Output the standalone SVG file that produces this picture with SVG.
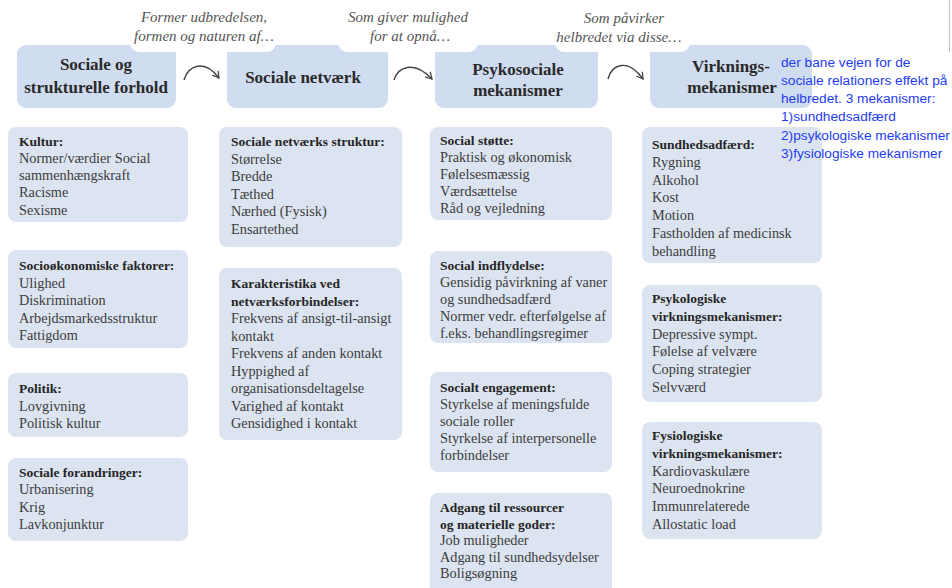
<svg xmlns="http://www.w3.org/2000/svg" width="952" height="588" viewBox="0 0 952 588">
<defs>
<style>
.hbox{fill:#d0dcef}
.dbox{fill:#dce4f1}
.cut{fill:#ffffff}
.ht{font-family:"Liberation Serif",serif;font-weight:bold;font-size:17px;fill:#2a2a2a;text-anchor:middle}
.lbl{font-family:"Liberation Serif",serif;font-style:italic;font-size:15px;fill:#555555;text-anchor:middle}
.hd{font-family:"Liberation Serif",serif;font-weight:bold;font-size:13.5px;fill:#262626}
.it{font-family:"Liberation Serif",serif;font-size:14.3px;fill:#3c3c3c}
.note{font-family:"Liberation Sans",Arial,sans-serif;font-size:13.7px;fill:#1f3cf5}
.arr{fill:none;stroke:#444444;stroke-width:1.4;marker-end:url(#chev)}
</style>
<marker id="chev" viewBox="0 0 10 10" refX="8" refY="5" markerWidth="9" markerHeight="9" markerUnits="userSpaceOnUse" orient="auto">
<path d="M1,1 L8,5 L1,9" fill="none" stroke="#444444" stroke-width="1.4"/>
</marker>
</defs>
<rect width="952" height="588" fill="#ffffff"/>
<line x1="949.5" y1="0" x2="949.5" y2="52" stroke="#c4c4c4" stroke-width="1"/>

<!-- header nodes -->
<g id="h1"><rect class="hbox" x="17" y="45" width="159" height="63" rx="9"/></g>
<g id="h2"><rect class="hbox" x="227" y="45" width="161" height="63" rx="9"/></g>
<g id="h3"><rect class="hbox" x="435" y="45" width="163" height="63" rx="9"/></g>
<g id="h4"><rect class="hbox" x="650" y="45" width="162" height="63" rx="9"/></g>

<!-- label backgrounds (notches) -->
<g id="edge-labels">
<rect class="cut" x="130" y="-12" width="146" height="64" rx="9"/>
<rect class="cut" x="338" y="-12" width="140" height="64" rx="9"/>
<rect class="cut" x="555" y="-12" width="135" height="64" rx="9"/>
<text class="lbl" x="204" y="22">Former udbredelsen,</text>
<text class="lbl" x="204" y="41">formen og naturen af…</text>
<text class="lbl" x="408" y="22">Som giver mulighed</text>
<text class="lbl" x="410" y="41">for at opnå…</text>
<text class="lbl" x="624" y="23">Som påvirker</text>
<text class="lbl" x="619" y="42">helbredet via disse…</text>
</g>

<g id="h1-text"><text class="ht" x="96" y="70">Sociale og</text><text class="ht" x="96" y="93">strukturelle forhold</text></g>
<g id="h2-text"><text class="ht" x="303" y="83">Sociale netværk</text></g>
<g id="h3-text"><text class="ht" x="518" y="75">Psykosociale</text><text class="ht" x="518" y="96">mekanismer</text></g>
<g id="h4-text"><text class="ht" x="731" y="72">Virknings-</text><text class="ht" x="732" y="93">mekanismer</text></g>

<!-- connectors -->
<g id="connectors">
<path class="arr" d="M184,80 C188,66 204,58 219,78"/>
<path class="arr" d="M394,80 C398,67 414,60 432,79"/>
<path class="arr" d="M608,79 C612,64 628,58 643,79"/>
</g>

<!-- column 1 -->
<g id="kultur"><rect class="dbox" x="8" y="127" width="180" height="95" rx="8"/>
<text class="hd" x="19" y="145.5">Kultur:</text>
<text class="it" x="19" y="162.8">Normer/værdier Social</text>
<text class="it" x="19" y="180.1">sammenhængskraft</text>
<text class="it" x="19" y="197.4">Racisme</text>
<text class="it" x="19" y="214.7">Sexisme</text></g>

<g id="socio"><rect class="dbox" x="8" y="250" width="180" height="98" rx="8"/>
<text class="hd" x="19" y="270">Socioøkonomiske faktorer:</text>
<text class="it" x="19" y="287.5">Ulighed</text>
<text class="it" x="19" y="305">Diskrimination</text>
<text class="it" x="19" y="322.5">Arbejdsmarkedsstruktur</text>
<text class="it" x="19" y="340">Fattigdom</text></g>

<g id="politik"><rect class="dbox" x="8" y="373" width="180" height="64" rx="8"/>
<text class="hd" x="19" y="393">Politik:</text>
<text class="it" x="19" y="410.5">Lovgivning</text>
<text class="it" x="19" y="428">Politisk kultur</text></g>

<g id="forandringer"><rect class="dbox" x="8" y="458" width="180" height="83" rx="8"/>
<text class="hd" x="19" y="477">Sociale forandringer:</text>
<text class="it" x="19" y="494.3">Urbanisering</text>
<text class="it" x="19" y="511.6">Krig</text>
<text class="it" x="19" y="528.9">Lavkonjunktur</text></g>

<!-- column 2 -->
<g id="struktur"><rect class="dbox" x="219" y="127" width="183" height="120" rx="8"/>
<text class="hd" x="231" y="146">Sociale netværks struktur:</text>
<text class="it" x="231" y="163.6">Størrelse</text>
<text class="it" x="231" y="181.2">Bredde</text>
<text class="it" x="231" y="198.8">Tæthed</text>
<text class="it" x="231" y="216.4">Nærhed (Fysisk)</text>
<text class="it" x="231" y="234">Ensartethed</text></g>

<g id="karakteristika"><rect class="dbox" x="219" y="268" width="183" height="172" rx="8"/>
<text class="hd" x="231" y="288">Karakteristika ved</text>
<text class="hd" x="231" y="305.5">netværksforbindelser:</text>
<text class="it" x="231" y="323">Frekvens af ansigt-til-ansigt</text>
<text class="it" x="231" y="340.5">kontakt</text>
<text class="it" x="231" y="358">Frekvens af anden kontakt</text>
<text class="it" x="231" y="375.5">Hyppighed af</text>
<text class="it" x="231" y="393">organisationsdeltagelse</text>
<text class="it" x="231" y="410.5">Varighed af kontakt</text>
<text class="it" x="231" y="428">Gensidighed i kontakt</text></g>

<!-- column 3 -->
<g id="stotte"><rect class="dbox" x="430" y="127" width="182" height="93" rx="8"/>
<text class="hd" x="440" y="145">Social støtte:</text>
<text class="it" x="440" y="162">Praktisk og økonomisk</text>
<text class="it" x="440" y="179">Følelsesmæssig</text>
<text class="it" x="440" y="196">Værdsættelse</text>
<text class="it" x="440" y="213">Råd og vejledning</text></g>

<g id="indflydelse"><rect class="dbox" x="430" y="251" width="182" height="92" rx="8"/>
<text class="hd" x="440" y="270">Social indflydelse:</text>
<text class="it" x="440" y="287">Gensidig påvirkning af vaner</text>
<text class="it" x="440" y="304">og sundhedsadfærd</text>
<text class="it" x="440" y="321">Normer vedr. efterfølgelse af</text>
<text class="it" x="440" y="338">f.eks. behandlingsregimer</text></g>

<g id="engagement"><rect class="dbox" x="430" y="372" width="182" height="100" rx="8"/>
<text class="hd" x="440" y="392">Socialt engagement:</text>
<text class="it" x="440" y="409">Styrkelse af meningsfulde</text>
<text class="it" x="440" y="426">sociale roller</text>
<text class="it" x="440" y="443">Styrkelse af interpersonelle</text>
<text class="it" x="440" y="460">forbindelser</text></g>

<g id="adgang"><rect class="dbox" x="430" y="493" width="182" height="120" rx="8"/>
<text class="hd" x="440" y="512">Adgang til ressourcer</text>
<text class="hd" x="440" y="528.5">og materielle goder:</text>
<text class="it" x="440" y="545">Job muligheder</text>
<text class="it" x="440" y="561.5">Adgang til sundhedsydelser</text>
<text class="it" x="440" y="578">Boligsøgning</text></g>

<!-- column 4 -->
<g id="sundhed"><rect class="dbox" x="642" y="127" width="180" height="136" rx="8"/>
<text class="hd" x="652" y="149">Sundhedsadfærd:</text>
<text class="it" x="652" y="166.8">Rygning</text>
<text class="it" x="652" y="184.6">Alkohol</text>
<text class="it" x="652" y="202.4">Kost</text>
<text class="it" x="652" y="220.2">Motion</text>
<text class="it" x="652" y="238">Fastholden af medicinsk</text>
<text class="it" x="652" y="255.8">behandling</text></g>

<g id="psykologiske"><rect class="dbox" x="642" y="285" width="180" height="117" rx="8"/>
<text class="hd" x="652" y="303">Psykologiske</text>
<text class="hd" x="652" y="320.8">virkningsmekanismer:</text>
<text class="it" x="652" y="338.6">Depressive sympt.</text>
<text class="it" x="652" y="356.4">Følelse af velvære</text>
<text class="it" x="652" y="374.2">Coping strategier</text>
<text class="it" x="652" y="392">Selvværd</text></g>

<g id="fysiologiske"><rect class="dbox" x="642" y="422" width="180" height="117" rx="8"/>
<text class="hd" x="652" y="440">Fysiologiske</text>
<text class="hd" x="652" y="457.8">virkningsmekanismer:</text>
<text class="it" x="652" y="475.6">Kardiovaskulære</text>
<text class="it" x="652" y="493.4">Neuroednokrine</text>
<text class="it" x="652" y="511.2">Immunrelaterede</text>
<text class="it" x="652" y="529">Allostatic load</text></g>

<!-- annotation -->
<g id="annotation">
<text class="note" x="781" y="66.5">der bane vejen for de</text>
<text class="note" x="781" y="84.8">sociale relationers effekt på</text>
<text class="note" x="781" y="103">helbredet. 3 mekanismer:</text>
<text class="note" x="781" y="121.3">1)sundhedsadfærd</text>
<text class="note" x="781" y="139.5">2)psykologiske mekanismer</text>
<text class="note" x="781" y="157.8">3)fysiologiske mekanismer</text>
</g>
</svg>
